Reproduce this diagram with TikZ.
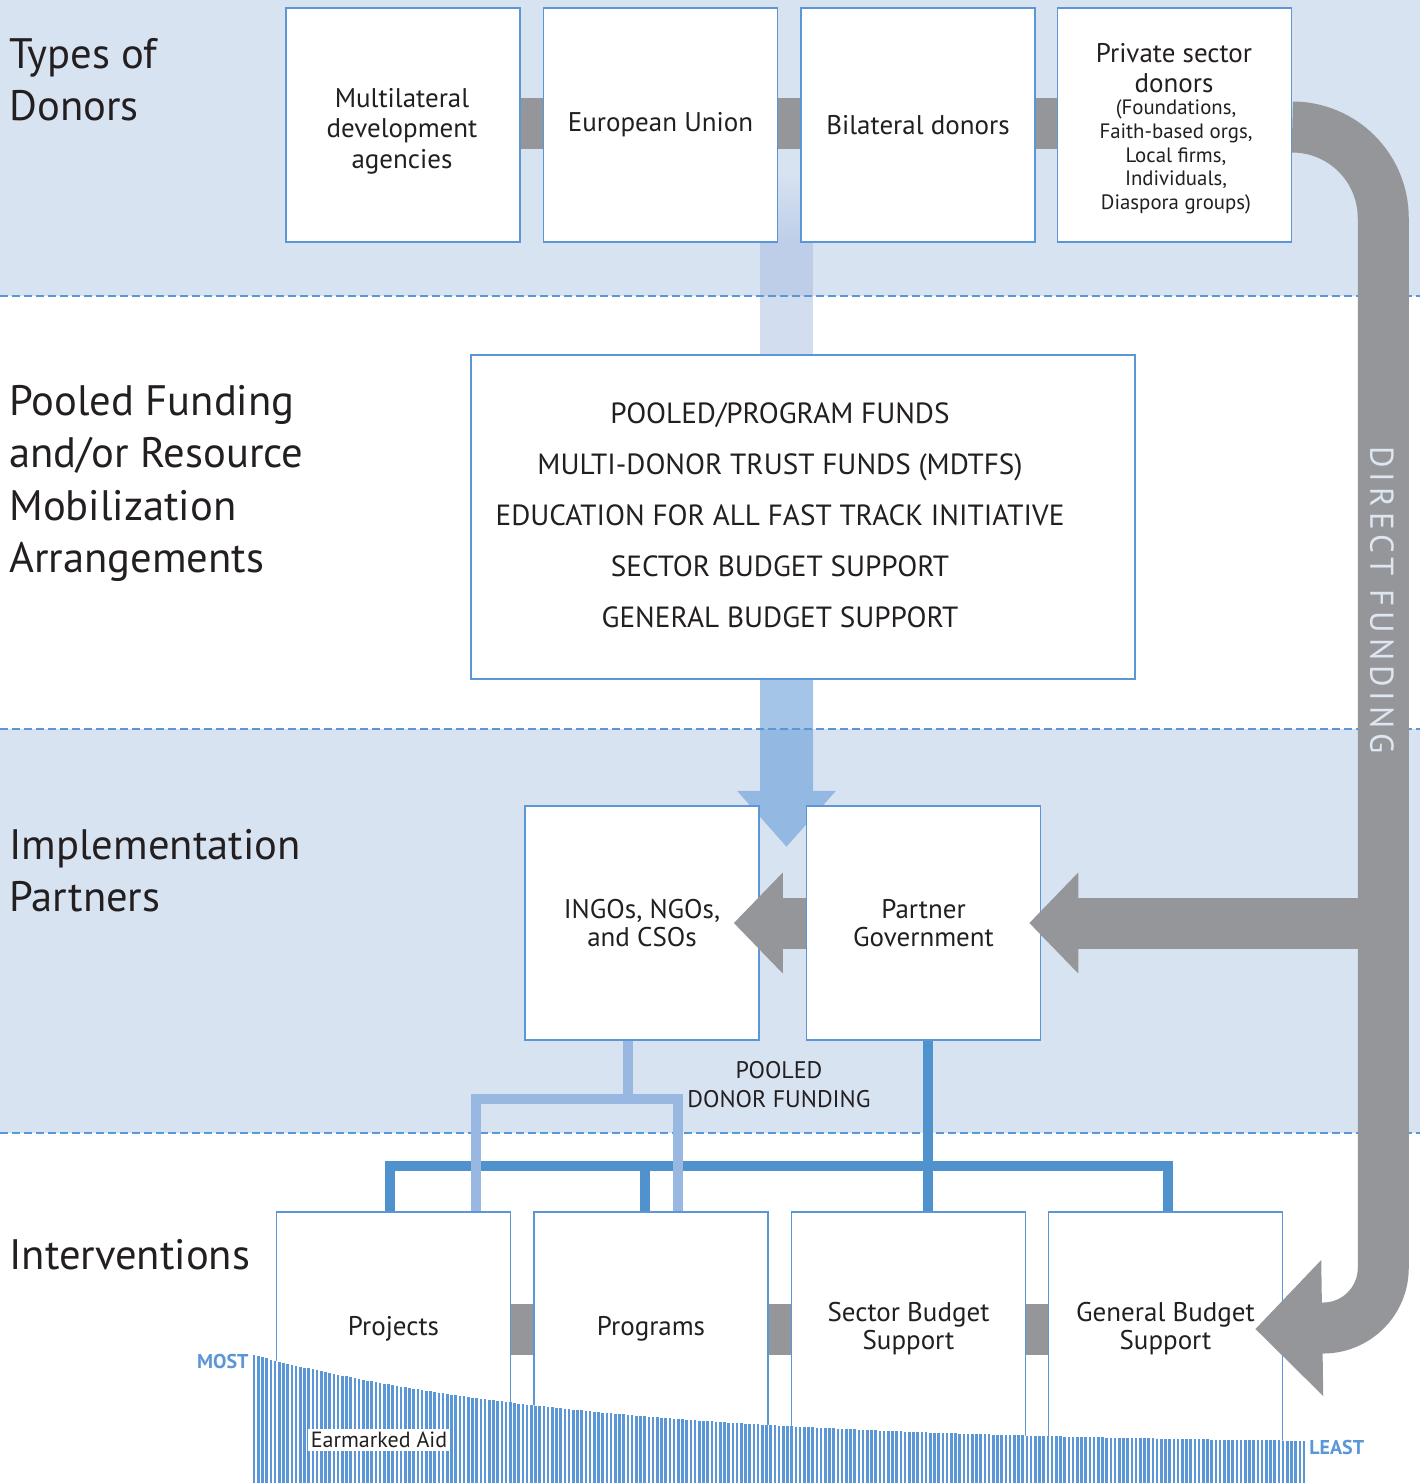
\documentclass[tikz,border=0pt]{standalone}
\usepackage{fontspec}
\setmainfont{PT Sans}
\newfontfamily\fundfont[LetterSpace=15]{PT Sans}
\usetikzlibrary{positioning, arrows.meta, calc}
\definecolor{bandblue}{RGB}{216,227,242}
\definecolor{lineblue}{RGB}{91,150,214}
\definecolor{darkblue}{RGB}{80,146,206}
\definecolor{lightblue}{RGB}{152,183,225}
\definecolor{flowblue}{RGB}{91,150,214}
\definecolor{fundgray}{RGB}{149,150,154}
\definecolor{txt}{RGB}{35,31,32}
\definecolor{shaftband}{RGB}{190,206,232}
\definecolor{shaftwhite}{RGB}{210,222,240}
\definecolor{fundtext}{RGB}{222,230,242}
\pgfdeclarelayer{background}
\pgfsetlayers{background,main}

\begin{document}
\begin{tikzpicture}[
    x=0.5pt, y=-0.5pt,
    box/.style={rectangle, draw=lineblue, fill=white, line width=0.75pt, minimum width=117pt, minimum height=117pt, inner sep=0pt, align=center, text=txt, font=\fontsize{13.5}{14}\selectfont},
    rowtitle/.style={anchor=north west, align=left, text=txt, inner sep=0pt, font=\fontsize{21.3}{26.2}\selectfont},
    divider/.style={lineblue, line width=0.75pt, dash pattern=on 4pt off 2pt},
    connect/.style={fundgray, line width=25.5pt},
    bigarrow/.style={connect, -{Triangle[length=24.5pt, width=49pt]}},
    darkline/.style={darkblue, line width=5pt},
    lightline/.style={lightblue, line width=5pt},
    tag/.style={text=lineblue, font=\bfseries\fontsize{10}{11}\selectfont, inner sep=0pt},
]
\useasboundingbox (0,0) rectangle (1420,1483);

% Bands
\begin{pgfonlayer}{background}
\fill[bandblue] (0,0) rectangle (1420,296);
\fill[bandblue] (0,729) rectangle (1420,1133);
\shade[top color=bandblue, bottom color=shaftband] (760,170) rectangle (813,242);
\fill[shaftband] (760,242) rectangle (813,296);
\fill[shaftwhite] (760,296) rectangle (813,356);
\end{pgfonlayer}

% Row titles
\node[rowtitle] (tdonors) at (9,38) {Types of\\Donors};
\node[rowtitle] (tpooled) at (9,385) {Pooled Funding\\and/or Resource\\Mobilization\\Arrangements};
\node[rowtitle] (tpartners) at (9,829) {Implementation\\Partners};
\node[rowtitle] (tinterv) at (9,1239) {Interventions};

% Donor boxes
\node[box] (mda) at (403,125) {};
\node[text=txt, align=center, font=\fontsize{13.5}{15.25}\selectfont] (mdatxt) at (402,131) {Multilateral\\development\\agencies};
\node[box, right=11pt of mda] (eu) {European Union};
\node[box, right=11pt of eu] (bil) {Bilateral donors};
\node[box, right=10.5pt of bil] (priv) {};
\node[text=txt, align=center, font=\fontsize{13.5}{15}\selectfont] (privtitle) at (1174,68) {Private sector\\donors};
\node[text=txt, align=center, font=\fontsize{10.4}{11.9}\selectfont] (privlist) at (1176,157) {(Foundations,\\Faith-based orgs,\\Local firms,\\Individuals,\\Diaspora groups)};

% Pooled funds
\node[box, minimum width=332pt, minimum height=162pt] (pool) at (803,517) {};
\node[text=txt, align=center, font=\fontsize{14.6}{25.5}\selectfont] (pooltxt) at (780,515) {POOLED/PROGRAM FUNDS\\MULTI-DONOR TRUST FUNDS (MDTFS)\\EDUCATION FOR ALL FAST TRACK INITIATIVE\\SECTOR BUDGET SUPPORT\\GENERAL BUDGET SUPPORT};

% Implementation partners
\node[box] (ingo) at (642,923) {INGOs, NGOs,\\and CSOs};
\node[box, right=23pt of ingo] (partner) {Partner\\Government};

% Interventions
\node[box] (proj) at (393.5,1329) {Projects};
\node[box, right=11pt of proj] (prog) {Programs};
\node[box, right=11pt of prog] (sector) {Sector Budget\\Support};
\node[box, right=10.75pt of sector] (gbs) {General Budget\\Support};

% Pooled flow down to partners
\coordinate (flow) at (786.5,0);
\begin{pgfonlayer}{background}
\fill[flowblue, fill opacity=.55] (pool.south -| flow) ++(-26.5,0) -- ++(0,111) -- ++(-23,0) -- ++(49.5,56) -- ++(49.5,-56) -- ++(-23,0) -- ++(0,-111) -- cycle;
\draw[divider] (0,296) -- (1420,296);
\draw[divider] (0,729) -- (1420,729);
\draw[divider] (0,1133) -- (1420,1133);
\end{pgfonlayer}

% Links between boxes
\draw[connect] ([yshift=1pt]mda.east) -- ([yshift=1pt]eu.west);
\draw[connect] ([yshift=1pt]eu.east) -- ([yshift=1pt]bil.west);
\draw[connect] ([yshift=1pt]bil.east) -- ([yshift=1pt]priv.west);
\draw[connect] (proj.east) -- (prog.west);
\draw[connect] (prog.east) -- (sector.west);
\draw[connect] (sector.east) -- (gbs.west);

% Direct funding
\coordinate (dfcol) at (1382,0);
\draw[connect, -{Triangle[length=33.5pt, width=66pt]}] ([yshift=-1pt]priv.east) arc[start angle=-90, end angle=0, radius=91] -- ++(0,1050) arc[start angle=0, end angle=90, radius=60] -- ([xshift=-14pt]gbs.east);
\draw[bigarrow] (dfcol |- partner.east) -- ([xshift=-6pt]partner.east);
\draw[bigarrow] (partner.west) -- ([xshift=-13pt]ingo.east);
\node[rotate=-90, text=fundtext, font=\fundfont\fontsize{16.5}{17}\selectfont] (dftext) at (1382,600) {DIRECT FUNDING};

% Funding lines
\draw[darkline] ([xshift=-1.75pt]proj.north) -- ++(0,-45) -| ([xshift=1.25pt]gbs.north);
\draw[darkline] ([xshift=-3pt]prog.north) -- ++(0,-47);
\draw[darkline] ([xshift=2pt]partner.south) -- ([xshift=2pt]partner.south |- sector.north);
\draw[lightline] ([xshift=-7pt]ingo.south) -- ++(0,62);
\draw[lightline] ([xshift=41.25pt]proj.north) -- ++(0,-112) -| ([xshift=13.5pt]prog.north);
\node[text=txt, align=center, font=\fontsize{12}{14.5}\selectfont] (pdf) at (779,1085) {POOLED\\DONOR FUNDING};

% Earmarked aid
\fill[white] plot[domain=253:1305, samples=80] (\x,{1445-90*exp(-(\x-253)/343)}) -- (1305,1483) -- (253,1483) -- cycle;
\foreach \x in {254,258.2,...,1305}
    \draw[lineblue, line width=1.3pt] (\x,{1445-90*exp(-(\x-253)/343)}) -- (\x,1483);
\node[fill=white, text=txt, inner sep=1.5pt, font=\fontsize{11}{13}\selectfont] (earmark) at (379,1440) {Earmarked Aid};
\node[tag, anchor=east] (most) at (249,1361) {MOST};
\node[tag, anchor=west] (least) at (1309,1447) {LEAST};

\end{tikzpicture}
\end{document}
